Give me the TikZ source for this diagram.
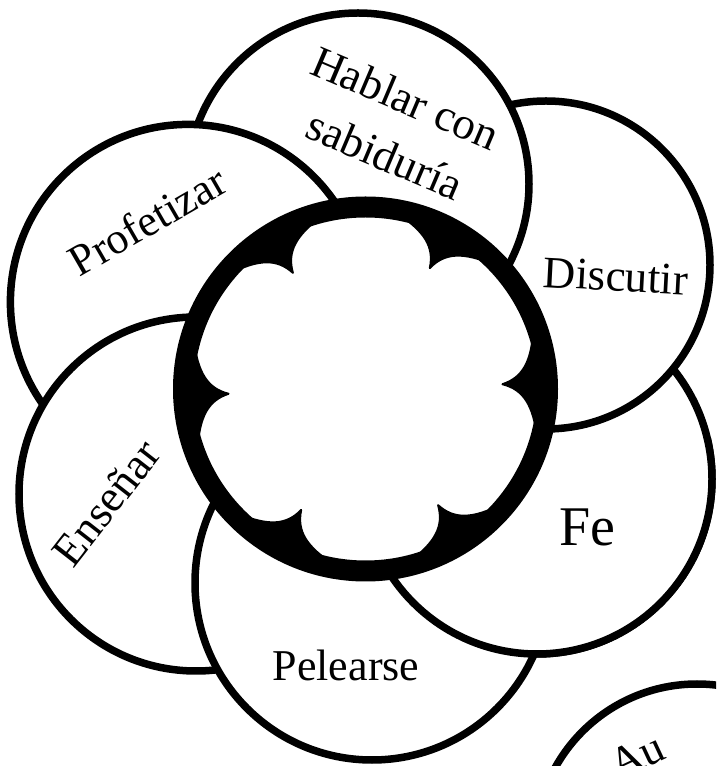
\documentclass[tikz,border=0pt]{standalone}
\usepackage{fontspec}
\setmainfont{Liberation Serif}
\begin{document}
\begin{tikzpicture}[x=1pt,y=1pt,
  petal/.style={draw=black, fill=white, line width=7.5pt},
  lbl/.style={font=\fontsize{45}{54}\selectfont, inner sep=0pt, anchor=base},
  cusp/.style={fill=black, draw=black, line width=2pt, line join=round}
]
\useasboundingbox (0,0) rectangle (716,766);
\clip (0,0) rectangle (716,766);
\coordinate (C) at (365.5,377);
\coordinate (pFe) at (537,287);
\coordinate (pDis) at (546,501);
\coordinate (pHab) at (358,582);
\coordinate (pPro) at (188,464);
\coordinate (pEns) at (196,272);
\coordinate (pPel) at (372,183);
\coordinate (pAu) at (697,-80);
% petals (cyclic overlap)
\draw[petal] (pFe) circle (175);
\draw[petal] (pDis) circle (164);
\draw[petal] (pHab) circle (171);
\draw[petal] (pPro) circle (177.6);
\draw[petal] (pEns) circle (177);
\draw[petal] (pPel) circle (177);
\begin{scope}
  \clip (0,0) rectangle (716,328);
  \draw[petal] (pFe) circle (175);
\end{scope}
\draw[petal] (pAu) circle (162);
% central ring
\fill[white] (C) circle (172);
\draw[line width=21pt] (C) circle (182);
\foreach \a in {2,62,...,302} {
  \filldraw[cusp, shift={(C)}, rotate=\a] (137,0) .. controls (158,6) and (167,22) .. (170,55) -- (181,57) -- (181,-57) -- (170,-55) .. controls (167,-22) and (158,-6) .. cycle;
}
% labels
\node[lbl, rotate=-23] (hab1) at (399.5,654) {Hablar con};
\node[lbl, rotate=-23] (hab2) at (379,597) {sabiduría};
\node[lbl, rotate=-3] (dis) at (615,475) {Discutir};
\node[lbl, font=\fontsize{56}{64}\selectfont] (fe) at (587,220) {Fe};
\node[lbl, font=\fontsize{44}{52}\selectfont] (pel) at (346,85) {Pelearse};
\node[lbl, font=\fontsize{44}{52}\selectfont, rotate=30] (pro) at (155,532) {Profetizar};
\node[lbl, rotate=52] (ens) at (118,254) {Enseñar};
\node[lbl, anchor=base west, rotate=25] (au) at (618,-15) {Au};
\end{tikzpicture}
\end{document}
